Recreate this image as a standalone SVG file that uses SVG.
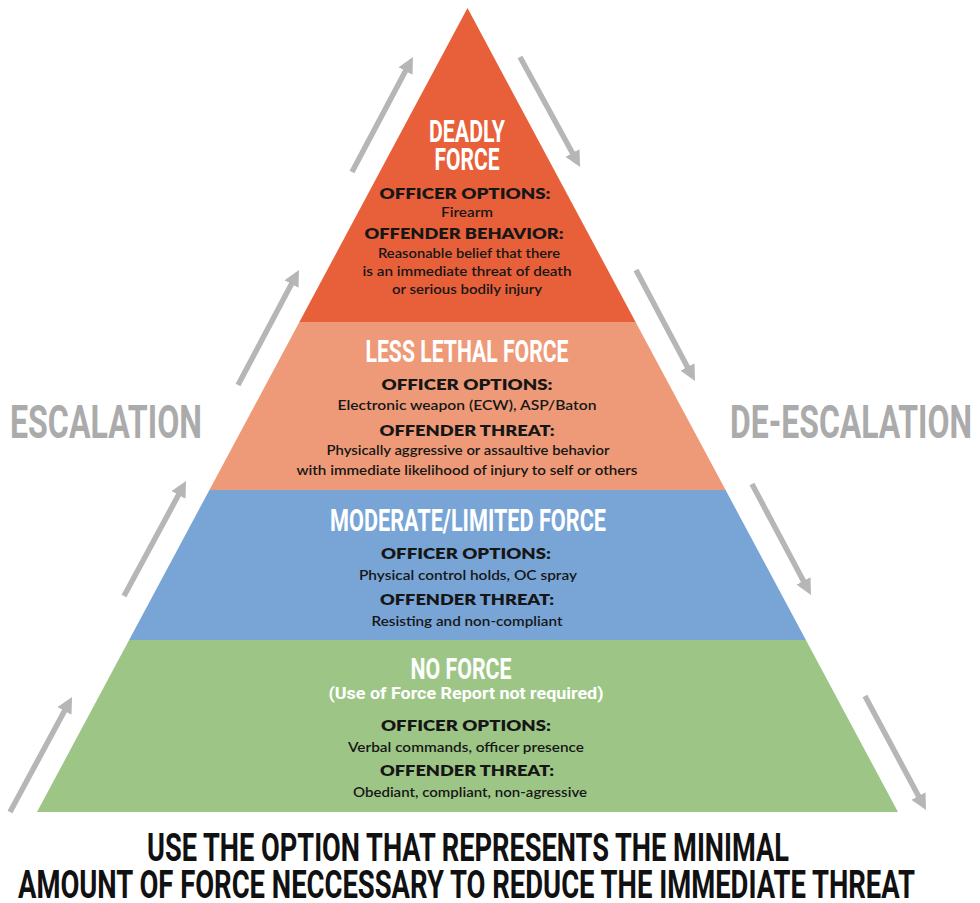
<svg xmlns="http://www.w3.org/2000/svg" width="980" height="903" viewBox="0 0 980 903">
  <style>
    .hd { font-family: Roboto, "Liberation Sans", "DejaVu Sans Condensed", sans-serif; font-weight: bold; fill: #ffffff; text-anchor: middle; }
    .lb { font-family: Lato, "Open Sans", "Liberation Sans", sans-serif; font-weight: 800; font-size: 15px; fill: #161616; text-anchor: middle; }
    .tx { font-family: Lato, "Open Sans", "Liberation Sans", sans-serif; font-weight: 600; font-size: 14px; fill: #161616; text-anchor: middle; }
    .side { font-family: Roboto, "Liberation Sans", "DejaVu Sans Condensed", sans-serif; font-weight: bold; font-size: 46px; fill: #ababab; text-anchor: middle; }
    .foot { font-family: Roboto, "Liberation Sans", "DejaVu Sans Condensed", sans-serif; font-weight: bold; font-size: 39px; fill: #111111; text-anchor: middle; }
    .arrow { stroke: #b6b6b6; stroke-width: 5.5; fill: none; marker-end: url(#head); }
  </style>
  <defs>
    <marker id="head" markerUnits="userSpaceOnUse" viewBox="0 0 16 16" refX="2" refY="8" markerWidth="16" markerHeight="16" orient="auto">
      <path d="M0,0 L16,8 L0,16 z" fill="#b6b6b6"/>
    </marker>
  </defs>

  <rect width="980" height="903" fill="#ffffff"/>

  <!-- Tier 1: deadly force (apex) -->
  <g id="deadly-force">
    <polygon points="467.5,8 635.6,322 299.4,322" fill="#e8603a"/>
    <text class="hd" x="467" y="142" font-size="31" textLength="76" lengthAdjust="spacingAndGlyphs">DEADLY</text>
    <text class="hd" x="467" y="170" font-size="31" textLength="65" lengthAdjust="spacingAndGlyphs">FORCE</text>
    <text class="lb" x="465" y="199" textLength="171" lengthAdjust="spacingAndGlyphs">OFFICER OPTIONS:</text>
    <text class="tx" x="467" y="217" textLength="52" lengthAdjust="spacingAndGlyphs">Firearm</text>
    <text class="lb" x="464" y="239" textLength="199" lengthAdjust="spacingAndGlyphs">OFFENDER BEHAVIOR:</text>
    <text class="tx" x="469" y="258" textLength="182" lengthAdjust="spacingAndGlyphs">Reasonable belief that there</text>
    <text class="tx" x="467" y="276" textLength="209" lengthAdjust="spacingAndGlyphs">is an immediate threat of death</text>
    <text class="tx" x="467" y="294" textLength="150" lengthAdjust="spacingAndGlyphs">or serious bodily injury</text>
  </g>

  <!-- Tier 2: less lethal force -->
  <g id="less-lethal-force">
    <polygon points="299.4,322 635.6,322 725.6,490 209.4,490" fill="#ee9a78"/>
    <text class="hd" x="467" y="362" font-size="31" textLength="203" lengthAdjust="spacingAndGlyphs">LESS LETHAL FORCE</text>
    <text class="lb" x="467" y="390" textLength="171" lengthAdjust="spacingAndGlyphs">OFFICER OPTIONS:</text>
    <text class="tx" x="467" y="410" textLength="259" lengthAdjust="spacingAndGlyphs">Electronic weapon (ECW), ASP/Baton</text>
    <text class="lb" x="467" y="436" textLength="175" lengthAdjust="spacingAndGlyphs">OFFENDER THREAT:</text>
    <text class="tx" x="468" y="455" textLength="283" lengthAdjust="spacingAndGlyphs">Physically aggressive or assaultive behavior</text>
    <text class="tx" x="467" y="475" textLength="341" lengthAdjust="spacingAndGlyphs">with immediate likelihood of injury to self or others</text>
  </g>

  <!-- Tier 3: moderate / limited force -->
  <g id="moderate-force">
    <polygon points="209.4,490 725.6,490 805.9,640 129.1,640" fill="#78a5d6"/>
    <text class="hd" x="468" y="531" font-size="31" textLength="276" lengthAdjust="spacingAndGlyphs">MODERATE/LIMITED FORCE</text>
    <text class="lb" x="466" y="559" textLength="170" lengthAdjust="spacingAndGlyphs">OFFICER OPTIONS:</text>
    <text class="tx" x="468" y="580" textLength="218" lengthAdjust="spacingAndGlyphs">Physical control holds, OC spray</text>
    <text class="lb" x="467" y="605" textLength="174" lengthAdjust="spacingAndGlyphs">OFFENDER THREAT:</text>
    <text class="tx" x="467" y="626" textLength="191" lengthAdjust="spacingAndGlyphs">Resisting and non-compliant</text>
  </g>

  <!-- Tier 4: no force (base) -->
  <g id="no-force">
    <polygon points="129.1,640 805.9,640 898,812 37,812" fill="#9dc686"/>
    <text class="hd" x="461" y="679" font-size="30" textLength="101" lengthAdjust="spacingAndGlyphs">NO FORCE</text>
    <text class="hd" x="466" y="699" font-size="16" textLength="275" lengthAdjust="spacingAndGlyphs">(Use of Force Report not required)</text>
    <text class="lb" x="466" y="731" textLength="170" lengthAdjust="spacingAndGlyphs">OFFICER OPTIONS:</text>
    <text class="tx" x="466" y="752" textLength="236" lengthAdjust="spacingAndGlyphs">Verbal commands, officer presence</text>
    <text class="lb" x="467" y="776" textLength="174" lengthAdjust="spacingAndGlyphs">OFFENDER THREAT:</text>
    <text class="tx" x="470" y="797" textLength="234" lengthAdjust="spacingAndGlyphs">Obediant, compliant, non-agressive</text>
  </g>

  <!-- Side captions -->
  <g id="escalation-label">
    <text class="side" x="106" y="438" textLength="192" lengthAdjust="spacingAndGlyphs">ESCALATION</text>
  </g>
  <g id="de-escalation-label">
    <text class="side" x="851" y="438" textLength="242" lengthAdjust="spacingAndGlyphs">DE-ESCALATION</text>
  </g>

  <!-- Escalation (up the left flank) and de-escalation (down the right flank) arrows -->
  <g id="connectors">
    <line class="arrow" x1="352" y1="172" x2="406.4" y2="69.3"/>
    <line class="arrow" x1="238" y1="385" x2="292.4" y2="282.3"/>
    <line class="arrow" x1="124" y1="596" x2="179.4" y2="493.3"/>
    <line class="arrow" x1="10" y1="812" x2="65.4" y2="709.3"/>
    <line class="arrow" x1="520" y1="57" x2="573.4" y2="154.7"/>
    <line class="arrow" x1="636" y1="270" x2="688.4" y2="368.7"/>
    <line class="arrow" x1="752" y1="484" x2="804.4" y2="582.7"/>
    <line class="arrow" x1="865" y1="696" x2="919.4" y2="797.7"/>
  </g>

  <!-- Footer statement -->
  <g id="footer">
    <text class="foot" x="468" y="861" textLength="642" lengthAdjust="spacingAndGlyphs">USE THE OPTION THAT REPRESENTS THE MINIMAL</text>
    <text class="foot" x="466.5" y="898" textLength="897" lengthAdjust="spacingAndGlyphs">AMOUNT OF FORCE NECCESSARY TO REDUCE THE IMMEDIATE THREAT</text>
  </g>
</svg>
